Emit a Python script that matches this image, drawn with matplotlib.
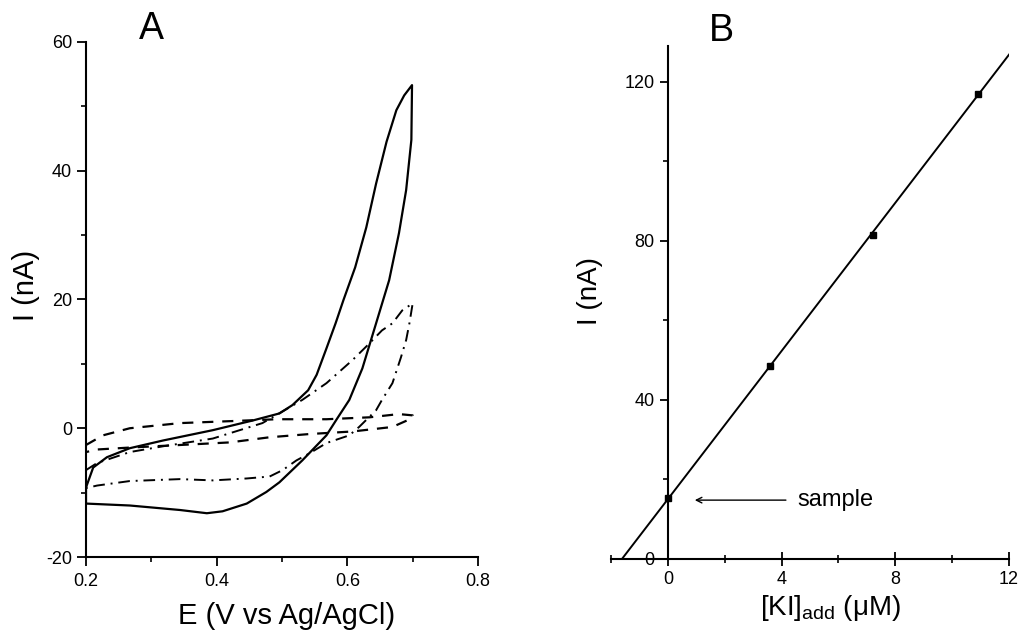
import numpy as np
import matplotlib
matplotlib.use("Agg")
from matplotlib import pyplot as plt
from matplotlib.ticker import MultipleLocator

plt.rcParams['font.family'] = ['Liberation Sans', 'DejaVu Sans']
plt.rcParams['mathtext.fontset'] = 'custom'
plt.rcParams['mathtext.rm'] = 'Liberation Sans'
plt.rcParams['mathtext.it'] = 'Liberation Sans:italic'
plt.rcParams['axes.unicode_minus'] = False

# A: cyclic voltammograms (E in V, I in nA)
solid_E = [0.200, 0.211, 0.232, 0.267, 0.318, 0.394, 0.455, 0.496, 0.516, 0.540,
           0.553, 0.568, 0.582, 0.594, 0.612, 0.629, 0.644, 0.660, 0.675, 0.687, 0.699,
           0.698, 0.690, 0.679, 0.664, 0.644, 0.623, 0.603, 0.585, 0.568, 0.531,
           0.496, 0.476, 0.446, 0.409, 0.385, 0.344, 0.267, 0.200, 0.200]
solid_I = [-9.2, -6.1, -4.5, -3.1, -1.9, -0.3, 1.2, 2.3, 3.6, 5.9,
           8.3, 12.4, 16.3, 19.9, 25.0, 31.2, 38.0, 44.5, 49.4, 51.7, 53.3,
           44.8, 37.0, 30.3, 23.0, 16.3, 9.3, 4.4, 1.6, -1.1, -5.0,
           -8.4, -9.9, -11.7, -12.9, -13.2, -12.7, -12.0, -11.7, -9.2]

dash_E = [0.200, 0.226, 0.267, 0.344, 0.420, 0.492, 0.568, 0.634, 0.679, 0.700,
          0.700, 0.669, 0.608, 0.542, 0.481, 0.420, 0.344, 0.267, 0.217, 0.200]
dash_I = [-2.6, -1.1, 0.0, 0.8, 1.1, 1.4, 1.4, 1.7, 2.2, 2.0,
          1.6, 0.2, -0.5, -0.9, -1.4, -2.2, -2.6, -3.0, -3.3, -3.7]

dd_E = [0.200, 0.217, 0.267, 0.318, 0.394, 0.470, 0.531, 0.568, 0.608, 0.634,
        0.653, 0.669, 0.684, 0.700,
        0.695, 0.690, 0.682, 0.669, 0.653, 0.644, 0.618, 0.603, 0.568, 0.542,
        0.522, 0.501, 0.481, 0.446, 0.394, 0.344, 0.267, 0.217, 0.200]
dd_I = [-6.5, -5.4, -3.7, -2.8, -1.6, 0.8, 4.4, 7.0, 10.6, 13.2,
        15.2, 16.3, 18.3, 19.4,
        16.3, 13.7, 11.0, 7.0, 4.4, 2.8, 0.2, -1.1, -2.3, -3.9,
        -5.0, -6.5, -7.5, -7.8, -8.1, -7.9, -8.2, -8.9, -9.3]

# B: standard addition
ki_add = [0.0, 3.6, 7.2, 10.9]
current = [15.3, 48.5, 81.5, 117.0]
line_x = [-1.65, 12.1]

fig = plt.figure(figsize=(10.19, 6.36), dpi=100)

# ---- panel A
ax1 = fig.add_axes([0.0844, 0.1242, 0.3847, 0.8098])
ax1.plot(solid_E, solid_I, color='black', lw=1.6, ls='-')
ax1.plot(dash_E, dash_I, color='black', lw=1.6, dashes=(5, 4))
ax1.plot(dd_E, dd_I, color='black', lw=1.4, dashes=(6, 3, 1, 3))
ax1.set_xlim(0.2, 0.8)
ax1.set_ylim(-20, 60)
ax1.set_xticks([0.2, 0.4, 0.6, 0.8])
ax1.set_xticklabels(['0.2', '0.4', '0.6', '0.8'])
ax1.xaxis.set_minor_locator(MultipleLocator(0.1))
ax1.yaxis.set_major_locator(MultipleLocator(20))
ax1.yaxis.set_minor_locator(MultipleLocator(10))
for s in ['top', 'right']:
    ax1.spines[s].set_visible(False)
for s in ['left', 'bottom']:
    ax1.spines[s].set_linewidth(1.5)
ax1.tick_params(which='major', direction='out', length=6.5, width=1.3, labelsize=13)
ax1.tick_params(which='minor', direction='out', length=3.6, width=1.2)
ax1.tick_params(axis='x', which='major', pad=5)
ax1.set_xlabel('E (V vs Ag/AgCl)', fontsize=21, va='top')
ax1.xaxis.set_label_coords(0.511, -0.088)
ax1.set_ylabel('I (nA)', fontsize=21)
ax1.yaxis.set_label_coords(-0.117, 0.528)
fig.text(0.149, 0.955, 'A', fontsize=27, ha='center', va='center')

# ---- panel B
ax2 = fig.add_axes([0.5996, 0.1211, 0.3906, 0.8066])
slope, icpt = np.polyfit(ki_add, current, 1)
lx = np.array(line_x)
ax2.plot(lx, slope * lx + icpt, color='black', lw=1.4)
ax2.plot(ki_add, current, 's', color='black', ms=5)
ax2.set_xlim(-2, 12)
ax2.set_ylim(0, 129)
ax2.xaxis.set_major_locator(MultipleLocator(4))
ax2.xaxis.set_minor_locator(MultipleLocator(2))
ax2.yaxis.set_major_locator(MultipleLocator(40))
ax2.yaxis.set_minor_locator(MultipleLocator(20))
for s in ['top', 'right']:
    ax2.spines[s].set_visible(False)
for s in ['left', 'bottom']:
    ax2.spines[s].set_linewidth(1.5)
ax2.spines['left'].set_position(('data', 0))
ax2.tick_params(axis='x', which='major', direction='inout', length=9.4, width=1.3,
                labelsize=13, pad=4)
ax2.tick_params(axis='x', which='minor', direction='inout', length=6, width=1.2)
ax2.tick_params(axis='y', which='major', direction='out', length=6, width=1.3, labelsize=13)
ax2.tick_params(axis='y', which='minor', direction='out', length=3.5, width=1.2)
ax2.set_xlabel(r'[KI]$_{\mathrm{add}}$ (μM)', fontsize=20, va='top')
ax2.xaxis.set_label_coords(0.55, -0.066)
ax2.set_ylabel('I (nA)', fontsize=20)
ax2.yaxis.set_label_coords(-0.02, 0.522)
ax2.annotate('', xy=(0.85, 14.8), xytext=(4.25, 14.8),
             arrowprops=dict(arrowstyle='->', color='black', lw=1.0))
ax2.text(4.55, 14.8, 'sample', fontsize=17, va='center', ha='left')
fig.text(0.7075, 0.952, 'B', fontsize=27, ha='center', va='center')

fig.savefig('out.png', dpi=100)
